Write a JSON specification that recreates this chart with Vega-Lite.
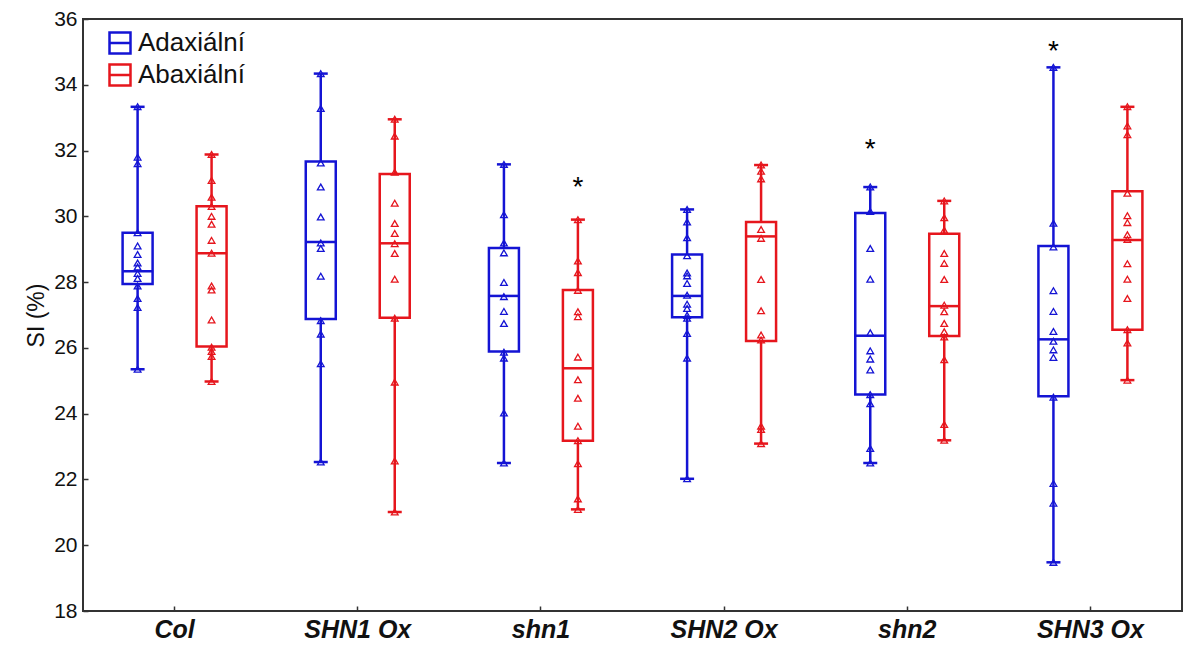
{
  "$schema": "https://vega.github.io/schema/vega-lite/v6.json",
  "width": 1099,
  "height": 592,
  "autosize": {"type": "none"},
  "padding": {"left": 83, "top": 19, "right": 2, "bottom": 37},
  "background": "white",
  "config": {
    "view": {"stroke": "#333333", "strokeWidth": 2},
    "font": "Liberation Sans",
    "axis": {"grid": false, "domain": false, "tickColor": "#333333", "tickWidth": 1.5, "labelColor": "#111111", "titleColor": "#111111"}
  },
  "datasets": {
    "boxes": [
      {"g": "Col", "side": "Adaxiální", "min": 25.35, "q1": 27.94, "med": 28.33, "q3": 29.5, "max": 33.33},
      {"g": "Col", "side": "Abaxiální", "min": 24.98, "q1": 26.04, "med": 28.88, "q3": 30.31, "max": 31.88},
      {"g": "SHN1 Ox", "side": "Adaxiální", "min": 22.53, "q1": 26.88, "med": 29.22, "q3": 31.67, "max": 34.34},
      {"g": "SHN1 Ox", "side": "Abaxiální", "min": 21.01, "q1": 26.92, "med": 29.18, "q3": 31.29, "max": 32.95},
      {"g": "shn1", "side": "Adaxiální", "min": 22.5, "q1": 25.89, "med": 27.58, "q3": 29.04, "max": 31.58},
      {"g": "shn1", "side": "Abaxiální", "min": 21.09, "q1": 23.18, "med": 25.38, "q3": 27.76, "max": 29.9},
      {"g": "SHN2 Ox", "side": "Adaxiální", "min": 22.02, "q1": 26.93, "med": 27.58, "q3": 28.84, "max": 30.21},
      {"g": "SHN2 Ox", "side": "Abaxiální", "min": 23.09, "q1": 26.21, "med": 29.39, "q3": 29.83, "max": 31.56},
      {"g": "shn2", "side": "Adaxiální", "min": 22.5, "q1": 24.58, "med": 26.37, "q3": 30.1, "max": 30.89},
      {"g": "shn2", "side": "Abaxiální", "min": 23.19, "q1": 26.36, "med": 27.27, "q3": 29.47, "max": 30.47},
      {"g": "SHN3 Ox", "side": "Adaxiální", "min": 19.48, "q1": 24.53, "med": 26.26, "q3": 29.1, "max": 34.53},
      {"g": "SHN3 Ox", "side": "Abaxiální", "min": 25.02, "q1": 26.55, "med": 29.28, "q3": 30.76, "max": 33.33}
    ],
    "pts": [
      {"g": "Col", "side": "Adaxiální", "v": 33.33}, {"g": "Col", "side": "Adaxiální", "v": 31.8}, {"g": "Col", "side": "Adaxiální", "v": 31.6}, {"g": "Col", "side": "Adaxiální", "v": 29.5}, {"g": "Col", "side": "Adaxiální", "v": 29.1}, {"g": "Col", "side": "Adaxiální", "v": 28.84}, {"g": "Col", "side": "Adaxiální", "v": 28.58}, {"g": "Col", "side": "Adaxiální", "v": 28.46}, {"g": "Col", "side": "Adaxiální", "v": 28.26}, {"g": "Col", "side": "Adaxiální", "v": 28.11}, {"g": "Col", "side": "Adaxiální", "v": 27.88}, {"g": "Col", "side": "Adaxiální", "v": 27.5}, {"g": "Col", "side": "Adaxiální", "v": 27.23}, {"g": "Col", "side": "Adaxiální", "v": 25.35},
      {"g": "Col", "side": "Abaxiální", "v": 31.88}, {"g": "Col", "side": "Abaxiální", "v": 31.09}, {"g": "Col", "side": "Abaxiální", "v": 30.58}, {"g": "Col", "side": "Abaxiální", "v": 30.3}, {"g": "Col", "side": "Abaxiální", "v": 30.0}, {"g": "Col", "side": "Abaxiální", "v": 29.76}, {"g": "Col", "side": "Abaxiální", "v": 29.27}, {"g": "Col", "side": "Abaxiální", "v": 28.88}, {"g": "Col", "side": "Abaxiální", "v": 27.88}, {"g": "Col", "side": "Abaxiální", "v": 27.76}, {"g": "Col", "side": "Abaxiální", "v": 26.85}, {"g": "Col", "side": "Abaxiální", "v": 26.02}, {"g": "Col", "side": "Abaxiální", "v": 25.89}, {"g": "Col", "side": "Abaxiální", "v": 25.74}, {"g": "Col", "side": "Abaxiální", "v": 24.98},
      {"g": "SHN1 Ox", "side": "Adaxiální", "v": 34.34}, {"g": "SHN1 Ox", "side": "Adaxiální", "v": 33.28}, {"g": "SHN1 Ox", "side": "Adaxiální", "v": 31.62}, {"g": "SHN1 Ox", "side": "Adaxiální", "v": 30.89}, {"g": "SHN1 Ox", "side": "Adaxiální", "v": 29.98}, {"g": "SHN1 Ox", "side": "Adaxiální", "v": 29.19}, {"g": "SHN1 Ox", "side": "Adaxiální", "v": 29.02}, {"g": "SHN1 Ox", "side": "Adaxiální", "v": 28.18}, {"g": "SHN1 Ox", "side": "Adaxiální", "v": 26.83}, {"g": "SHN1 Ox", "side": "Adaxiální", "v": 26.42}, {"g": "SHN1 Ox", "side": "Adaxiální", "v": 25.52}, {"g": "SHN1 Ox", "side": "Adaxiální", "v": 22.53},
      {"g": "SHN1 Ox", "side": "Abaxiální", "v": 32.95}, {"g": "SHN1 Ox", "side": "Abaxiální", "v": 32.44}, {"g": "SHN1 Ox", "side": "Abaxiální", "v": 31.34}, {"g": "SHN1 Ox", "side": "Abaxiální", "v": 30.4}, {"g": "SHN1 Ox", "side": "Abaxiální", "v": 29.78}, {"g": "SHN1 Ox", "side": "Abaxiální", "v": 29.48}, {"g": "SHN1 Ox", "side": "Abaxiální", "v": 29.17}, {"g": "SHN1 Ox", "side": "Abaxiální", "v": 28.87}, {"g": "SHN1 Ox", "side": "Abaxiální", "v": 28.09}, {"g": "SHN1 Ox", "side": "Abaxiální", "v": 26.9}, {"g": "SHN1 Ox", "side": "Abaxiální", "v": 24.96}, {"g": "SHN1 Ox", "side": "Abaxiální", "v": 22.56}, {"g": "SHN1 Ox", "side": "Abaxiální", "v": 21.01},
      {"g": "shn1", "side": "Adaxiální", "v": 31.58}, {"g": "shn1", "side": "Adaxiální", "v": 30.05}, {"g": "shn1", "side": "Adaxiální", "v": 29.19}, {"g": "shn1", "side": "Adaxiální", "v": 28.89}, {"g": "shn1", "side": "Adaxiální", "v": 27.99}, {"g": "shn1", "side": "Adaxiální", "v": 27.56}, {"g": "shn1", "side": "Adaxiální", "v": 27.11}, {"g": "shn1", "side": "Adaxiální", "v": 26.74}, {"g": "shn1", "side": "Adaxiální", "v": 25.87}, {"g": "shn1", "side": "Adaxiální", "v": 25.69}, {"g": "shn1", "side": "Adaxiální", "v": 24.02}, {"g": "shn1", "side": "Adaxiální", "v": 22.5},
      {"g": "shn1", "side": "Abaxiální", "v": 29.9}, {"g": "shn1", "side": "Abaxiální", "v": 28.64}, {"g": "shn1", "side": "Abaxiální", "v": 28.29}, {"g": "shn1", "side": "Abaxiální", "v": 27.75}, {"g": "shn1", "side": "Abaxiální", "v": 27.1}, {"g": "shn1", "side": "Abaxiální", "v": 26.95}, {"g": "shn1", "side": "Abaxiální", "v": 25.72}, {"g": "shn1", "side": "Abaxiální", "v": 25.03}, {"g": "shn1", "side": "Abaxiální", "v": 24.47}, {"g": "shn1", "side": "Abaxiální", "v": 23.62}, {"g": "shn1", "side": "Abaxiální", "v": 23.18}, {"g": "shn1", "side": "Abaxiální", "v": 22.48}, {"g": "shn1", "side": "Abaxiální", "v": 21.41}, {"g": "shn1", "side": "Abaxiální", "v": 21.09},
      {"g": "SHN2 Ox", "side": "Adaxiální", "v": 30.21}, {"g": "SHN2 Ox", "side": "Adaxiální", "v": 29.83}, {"g": "SHN2 Ox", "side": "Adaxiální", "v": 29.35}, {"g": "SHN2 Ox", "side": "Adaxiální", "v": 28.8}, {"g": "SHN2 Ox", "side": "Adaxiální", "v": 28.28}, {"g": "SHN2 Ox", "side": "Adaxiální", "v": 28.19}, {"g": "SHN2 Ox", "side": "Adaxiální", "v": 27.96}, {"g": "SHN2 Ox", "side": "Adaxiální", "v": 27.6}, {"g": "SHN2 Ox", "side": "Adaxiální", "v": 27.33}, {"g": "SHN2 Ox", "side": "Adaxiální", "v": 27.2}, {"g": "SHN2 Ox", "side": "Adaxiální", "v": 26.99}, {"g": "SHN2 Ox", "side": "Adaxiální", "v": 26.9}, {"g": "SHN2 Ox", "side": "Adaxiální", "v": 26.44}, {"g": "SHN2 Ox", "side": "Adaxiální", "v": 25.69}, {"g": "SHN2 Ox", "side": "Adaxiální", "v": 22.02},
      {"g": "SHN2 Ox", "side": "Abaxiální", "v": 31.56}, {"g": "SHN2 Ox", "side": "Abaxiální", "v": 31.37}, {"g": "SHN2 Ox", "side": "Abaxiální", "v": 31.14}, {"g": "SHN2 Ox", "side": "Abaxiální", "v": 29.6}, {"g": "SHN2 Ox", "side": "Abaxiální", "v": 29.33}, {"g": "SHN2 Ox", "side": "Abaxiální", "v": 28.08}, {"g": "SHN2 Ox", "side": "Abaxiální", "v": 27.13}, {"g": "SHN2 Ox", "side": "Abaxiální", "v": 26.39}, {"g": "SHN2 Ox", "side": "Abaxiální", "v": 26.24}, {"g": "SHN2 Ox", "side": "Abaxiální", "v": 23.62}, {"g": "SHN2 Ox", "side": "Abaxiální", "v": 23.52}, {"g": "SHN2 Ox", "side": "Abaxiální", "v": 23.09},
      {"g": "shn2", "side": "Adaxiální", "v": 30.89}, {"g": "shn2", "side": "Adaxiální", "v": 30.15}, {"g": "shn2", "side": "Adaxiální", "v": 29.02}, {"g": "shn2", "side": "Adaxiální", "v": 28.09}, {"g": "shn2", "side": "Adaxiální", "v": 26.46}, {"g": "shn2", "side": "Adaxiální", "v": 25.91}, {"g": "shn2", "side": "Adaxiální", "v": 25.66}, {"g": "shn2", "side": "Adaxiální", "v": 25.33}, {"g": "shn2", "side": "Adaxiální", "v": 24.58}, {"g": "shn2", "side": "Adaxiální", "v": 24.3}, {"g": "shn2", "side": "Adaxiální", "v": 22.94}, {"g": "shn2", "side": "Adaxiální", "v": 22.5},
      {"g": "shn2", "side": "Abaxiální", "v": 30.47}, {"g": "shn2", "side": "Abaxiální", "v": 29.96}, {"g": "shn2", "side": "Abaxiální", "v": 29.58}, {"g": "shn2", "side": "Abaxiální", "v": 28.87}, {"g": "shn2", "side": "Abaxiální", "v": 28.57}, {"g": "shn2", "side": "Abaxiální", "v": 28.08}, {"g": "shn2", "side": "Abaxiální", "v": 27.3}, {"g": "shn2", "side": "Abaxiální", "v": 27.1}, {"g": "shn2", "side": "Abaxiální", "v": 26.74}, {"g": "shn2", "side": "Abaxiální", "v": 26.49}, {"g": "shn2", "side": "Abaxiální", "v": 26.33}, {"g": "shn2", "side": "Abaxiální", "v": 25.64}, {"g": "shn2", "side": "Abaxiální", "v": 23.67}, {"g": "shn2", "side": "Abaxiální", "v": 23.19},
      {"g": "SHN3 Ox", "side": "Adaxiální", "v": 34.53}, {"g": "SHN3 Ox", "side": "Adaxiální", "v": 29.79}, {"g": "SHN3 Ox", "side": "Adaxiální", "v": 29.07}, {"g": "SHN3 Ox", "side": "Adaxiální", "v": 27.74}, {"g": "SHN3 Ox", "side": "Adaxiální", "v": 27.11}, {"g": "SHN3 Ox", "side": "Adaxiální", "v": 26.5}, {"g": "SHN3 Ox", "side": "Adaxiální", "v": 26.2}, {"g": "SHN3 Ox", "side": "Adaxiální", "v": 25.94}, {"g": "SHN3 Ox", "side": "Adaxiální", "v": 25.71}, {"g": "SHN3 Ox", "side": "Adaxiální", "v": 24.5}, {"g": "SHN3 Ox", "side": "Adaxiální", "v": 21.88}, {"g": "SHN3 Ox", "side": "Adaxiální", "v": 21.28}, {"g": "SHN3 Ox", "side": "Adaxiální", "v": 19.48},
      {"g": "SHN3 Ox", "side": "Abaxiální", "v": 33.33}, {"g": "SHN3 Ox", "side": "Abaxiální", "v": 32.75}, {"g": "SHN3 Ox", "side": "Abaxiální", "v": 32.48}, {"g": "SHN3 Ox", "side": "Abaxiální", "v": 30.7}, {"g": "SHN3 Ox", "side": "Abaxiální", "v": 30.02}, {"g": "SHN3 Ox", "side": "Abaxiální", "v": 29.81}, {"g": "SHN3 Ox", "side": "Abaxiální", "v": 29.44}, {"g": "SHN3 Ox", "side": "Abaxiální", "v": 29.3}, {"g": "SHN3 Ox", "side": "Abaxiální", "v": 28.56}, {"g": "SHN3 Ox", "side": "Abaxiální", "v": 28.09}, {"g": "SHN3 Ox", "side": "Abaxiální", "v": 27.5}, {"g": "SHN3 Ox", "side": "Abaxiální", "v": 26.55}, {"g": "SHN3 Ox", "side": "Abaxiální", "v": 26.15}, {"g": "SHN3 Ox", "side": "Abaxiální", "v": 25.02}
    ],
    "stars": [
      {"g": "shn1", "side": "Abaxiální", "y": 30.97, "label": "*"},
      {"g": "shn2", "side": "Adaxiální", "y": 32.15, "label": "*"},
      {"g": "SHN3 Ox", "side": "Adaxiální", "y": 35.12, "label": "*"}
    ]
  },
  "encoding": {
    "x": {
      "field": "g", "type": "nominal",
      "sort": ["Col", "SHN1 Ox", "shn1", "SHN2 Ox", "shn2", "SHN3 Ox"],
      "scale": {"paddingInner": 0, "paddingOuter": 0},
      "title": null,
      "axis": {"labelAngle": 0, "labelFontSize": 25, "labelFontWeight": "bold", "labelFontStyle": "italic", "tickSize": -5, "labelPadding": 11}
    },
    "xOffset": {
      "field": "side", "type": "nominal",
      "sort": ["Adaxiální", "Abaxiální"],
      "scale": {"paddingInner": 0, "paddingOuter": 0.238}
    },
    "color": {
      "field": "side", "type": "nominal",
      "scale": {"domain": ["Adaxiální", "Abaxiální"], "range": ["#1414d4", "#e6161d"]},
      "legend": {"title": null, "orient": "none", "legendX": 24, "legendY": 11, "padding": 0,
                 "symbolType": "M-1,-1H1V1H-1Z M-1,0H1", "symbolSize": 441, "symbolStrokeWidth": 2.5,
                 "symbolFillColor": "transparent", "symbolOpacity": 1,
                 "labelFontSize": 26, "labelColor": "#111111", "labelOffset": 5, "rowPadding": 0}
    }
  },
  "layer": [
    {
      "data": {"name": "boxes"},
      "mark": {"type": "rule", "strokeWidth": 2.5},
      "encoding": {
        "y": {"field": "min", "type": "quantitative", "scale": {"domain": [18, 36], "nice": false, "zero": false},
              "axis": {"values": [18, 20, 22, 24, 26, 28, 30, 32, 34, 36], "labelFontSize": 21, "tickSize": -5, "labelPadding": 11, "title": "SI (%)", "titleFontSize": 23, "titleFontWeight": "normal", "titlePadding": 5}},
        "y2": {"field": "q1"}
      }
    },
    {
      "data": {"name": "boxes"},
      "mark": {"type": "rule", "strokeWidth": 2.5},
      "encoding": {
        "y": {"field": "q3", "type": "quantitative"},
        "y2": {"field": "max"}
      }
    },
    {
      "data": {"name": "boxes"},
      "mark": {"type": "bar", "filled": false, "strokeWidth": 2.5, "width": 30, "opacity": 1},
      "encoding": {
        "y": {"field": "q1", "type": "quantitative"},
        "y2": {"field": "q3"}
      }
    },
    {
      "data": {"name": "boxes"},
      "mark": {"type": "tick", "filled": false, "thickness": 0.5, "strokeWidth": 2, "size": 29, "opacity": 1},
      "encoding": {
        "y": {"field": "med", "type": "quantitative"}
      }
    },
    {
      "data": {"name": "boxes"},
      "mark": {"type": "tick", "filled": false, "thickness": 0.5, "strokeWidth": 2, "size": 12, "opacity": 1},
      "encoding": {
        "y": {"field": "min", "type": "quantitative"}
      }
    },
    {
      "data": {"name": "boxes"},
      "mark": {"type": "tick", "filled": false, "thickness": 0.5, "strokeWidth": 2, "size": 12, "opacity": 1},
      "encoding": {
        "y": {"field": "max", "type": "quantitative"}
      }
    },
    {
      "data": {"name": "pts"},
      "mark": {"type": "point", "shape": "triangle-up", "filled": false, "size": 45, "strokeWidth": 1.3, "opacity": 1},
      "encoding": {
        "y": {"field": "v", "type": "quantitative"}
      }
    },
    {
      "data": {"name": "stars"},
      "mark": {"type": "text", "fontSize": 28, "baseline": "alphabetic", "dy": 12},
      "encoding": {
        "y": {"field": "y", "type": "quantitative"},
        "text": {"field": "label"},
        "color": {"value": "#000000"}
      }
    }
  ]
}
